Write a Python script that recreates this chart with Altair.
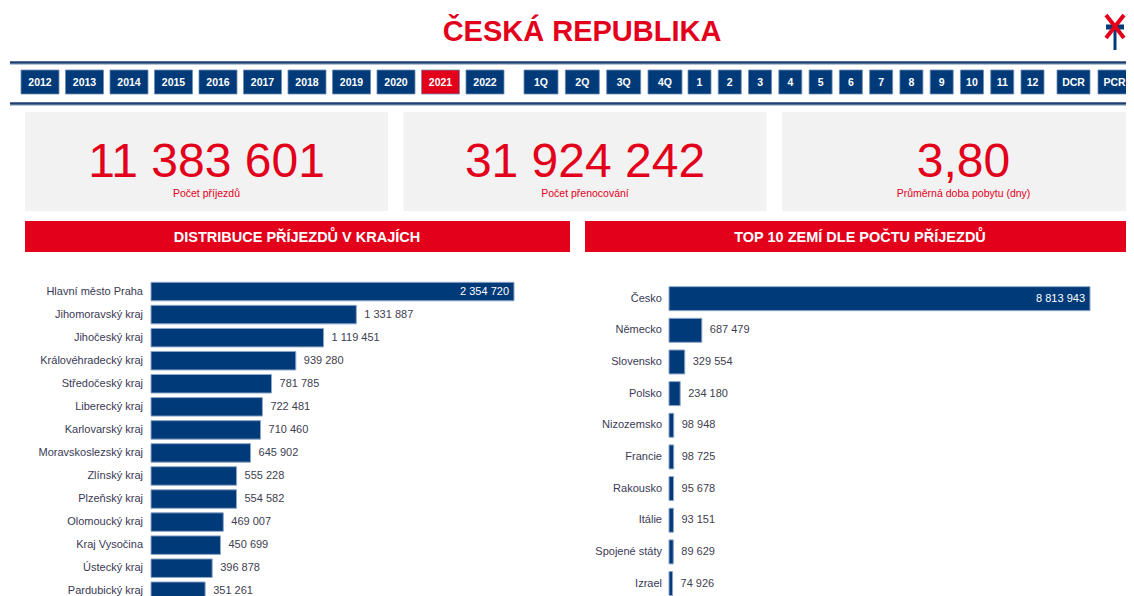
import altair as alt
import pandas as pd

# ---------------- data ----------------
title_text = "ČESKÁ REPUBLIKA"
years = ["2012", "2013", "2014", "2015", "2016", "2017", "2018", "2019", "2020", "2021", "2022"]
selected_year = "2021"
quarters = ["1Q", "2Q", "3Q", "4Q"]
months = ["1", "2", "3", "4", "5", "6", "7", "8", "9", "10", "11", "12"]
extras = ["DCR", "PCR"]

kpi_values = ["11 383 601", "31 924 242", "3,80"]
kpi_labels = ["Počet příjezdů", "Počet přenocování", "Průměrná doba pobytu (dny)"]

header_left = "DISTRIBUCE PŘÍJEZDŮ V KRAJÍCH"
header_right = "TOP 10 ZEMÍ DLE POČTU PŘÍJEZDŮ"

regions = ["Hlavní město Praha", "Jihomoravský kraj", "Jihočeský kraj", "Královéhradecký kraj",
           "Středočeský kraj", "Liberecký kraj", "Karlovarský kraj", "Moravskoslezský kraj",
           "Zlínský kraj", "Plzeňský kraj", "Olomoucký kraj", "Kraj Vysočina", "Ústecký kraj",
           "Pardubický kraj"]
region_arrivals = [2354720, 1331887, 1119451, 939280, 781785, 722481, 710460, 645902,
                   555228, 554582, 469007, 450699, 396878, 351261]

countries = ["Česko", "Německo", "Slovensko", "Polsko", "Nizozemsko", "Francie", "Rakousko",
             "Itálie", "Spojené státy", "Izrael"]
country_arrivals = [8813943, 687479, 329554, 234180, 98948, 98725, 95678, 93151, 89629, 74926]

# ---------------- style ----------------
RED = "#e3001b"
NAVY = "#003a78"
GREY = "#f2f2f2"
LBL = "#3a3a55"
VAL = "#404050"
FONT = "Liberation Sans, Arial, sans-serif"
O = 8  # page margin offset

ONE = pd.DataFrame({"k": [0]})


def box(x0, y0, x1, y1, color):
    return alt.Chart(ONE).mark_rect(color=color).encode(
        x=alt.value(x0 - O), x2=alt.value(x1 - O), y=alt.value(y0 - O), y2=alt.value(y1 - O))


def line(x0, y0, x1, y1, color, w, cap="butt"):
    return alt.Chart(ONE).mark_rule(color=color, strokeWidth=w, strokeCap=cap).encode(
        x=alt.value(x0 - O), x2=alt.value(x1 - O), y=alt.value(y0 - O), y2=alt.value(y1 - O))


def label(text, x, y, size, color, weight="normal", align="center"):
    return alt.Chart(pd.DataFrame({"t": [text]})).mark_text(
        fontSize=size, color=color, font=FONT, fontWeight=weight, align=align,
        baseline="alphabetic").encode(x=alt.value(x - O), y=alt.value(y - O), text="t:N")


def buttons(labels, field, r0, r1, pi):
    df = pd.DataFrame({field: labels})
    sc = alt.Scale(domain=labels, range=[r0 - O, r1 - O], paddingInner=pi, paddingOuter=0)
    x = alt.X(f"{field}:N", scale=sc, axis=None)
    fill = alt.condition(f"datum['{field}'] == '{selected_year}'", alt.value(RED), alt.value(NAVY))
    rect = alt.Chart(df).mark_rect(stroke="#6f8db5", strokeWidth=0.8).encode(
        x=x, y=alt.value(70 - O), y2=alt.value(94 - O), color=fill)
    txt = alt.Chart(df).mark_text(color="white", fontSize=10.5, fontWeight="bold", font=FONT,
                                  baseline="alphabetic").encode(
        x=x, y=alt.value(86 - O), text=f"{field}:N")
    return alt.layer(rect, txt)


def hbar(cats, vals, field, x0, x1, y0, y1, pi, po, label_right):
    df = pd.DataFrame({field: cats, "v": vals})
    df["lab"] = [f"{v:,}".replace(",", " ") for v in vals]
    xs = alt.Scale(domain=[0, max(vals)], range=[x0 - O, x1 - O], nice=False, zero=True)
    ys = alt.Scale(domain=cats, range=[y0 - O, y1 - O], paddingInner=pi, paddingOuter=po)
    y = alt.Y(f"{field}:N", scale=ys, axis=None)
    x = alt.X("v:Q", scale=xs, axis=None)
    base = alt.Chart(df)
    bars = base.mark_bar(color=NAVY, stroke="#8ea6c8", strokeWidth=1).encode(x=x, y=y)
    cat = base.mark_text(align="right", baseline="middle", fontSize=11, color=LBL, font=FONT).encode(
        x=alt.value(label_right - O), y=y, text=f"{field}:N")
    out = base.transform_joinaggregate(mx="max(v)").transform_filter("datum.v < datum.mx").mark_text(
        align="left", baseline="middle", dx=8, fontSize=11, color=VAL, font=FONT).encode(
        x=x, y=y, text="lab:N")
    ins = base.transform_joinaggregate(mx="max(v)").transform_filter("datum.v == datum.mx").mark_text(
        align="right", baseline="middle", dx=-5, fontSize=11, color="white", font=FONT).encode(
        x=x, y=y, text="lab:N")
    return alt.layer(bars, cat, out, ins)


# KPI cards
kdf = pd.DataFrame({"ukazatel": kpi_labels, "hodnota": kpi_values})
ksc = alt.Scale(domain=kpi_labels, range=[25 - O, 1145 - O], paddingInner=0.041, paddingOuter=0)
kx = alt.X("ukazatel:N", scale=ksc, axis=None)
cards = alt.layer(
    alt.Chart(kdf).mark_rect(color=GREY).encode(x=kx, y=alt.value(112 - O), y2=alt.value(211 - O)),
    alt.Chart(kdf).mark_text(fontSize=48, color=RED, font=FONT, baseline="alphabetic").encode(
        x=kx, y=alt.value(177 - O), text="hodnota:N"),
    alt.Chart(kdf).mark_text(fontSize=10.5, color=RED, font=FONT, baseline="alphabetic").encode(
        x=kx, y=alt.value(197 - O), text="ukazatel:N"),
)

layers = [
    label(title_text, 582, 41, 29, RED, weight="bold"),
    # logo
    line(1106, 27, 1124, 27, NAVY, 5),
    line(1115, 27, 1115, 50, NAVY, 3),
    line(1106, 15, 1124, 38, RED, 4),
    line(1124, 15, 1106, 38, RED, 4),
    # rules around the button bar
    line(10, 62.5, 1134, 62.5, "#1d3f74", 2.5),
    line(10, 64.5, 1134, 64.5, "#b7c6da", 1.2),
    line(10, 103.5, 1134, 103.5, "#1d3f74", 2.5),
    line(10, 105.5, 1134, 105.5, "#b7c6da", 1.2),
    buttons(years, "rok", 21, 504, 0.146),
    buttons(quarters, "ctvrtleti", 524, 682, 0.177),
    buttons(months, "mesic", 688, 1044, 0.24),
    buttons(extras, "typ", 1057, 1131, 0.195),
    cards,
    box(25, 221, 570, 252, RED),
    box(585, 221, 1145, 252, RED),
    label(header_left, 297, 242, 14.5, "white", weight="bold"),
    label(header_right, 860, 242, 14.5, "white", weight="bold"),
    hbar(regions, region_arrivals, "kraj", 151, 514, 280, 602.8, 0.197, 0.1, 143),
    hbar(countries, country_arrivals, "zeme", 669, 1090, 283.5, 598.7, 0.242, 0.1, 662),
]

chart = alt.layer(*layers).resolve_scale(x="independent", y="independent").properties(
    width=1118, height=588, padding=0, autosize="none"
).configure(font="Liberation Sans").configure_view(stroke=None)

chart.save("out.html", embed_options={"renderer": "svg", "actions": False})
